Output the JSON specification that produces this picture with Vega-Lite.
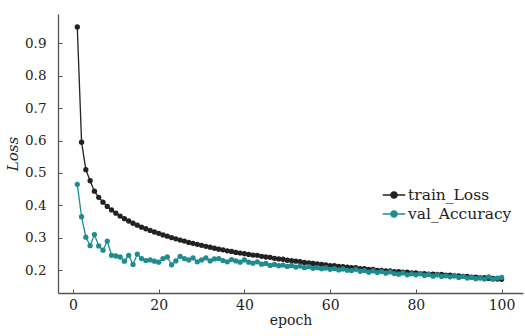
{
  "$schema": "https://vega.github.io/schema/vega-lite/v6.json",
  "autosize": {"type": "none"},
  "padding": {"left": 58, "top": 14, "right": 2, "bottom": 43},
  "width": 465,
  "height": 279,
  "background": "white",
  "data": {"values": [
    {"epoch":1,"value":0.950,"series":"train_Loss"},{"epoch":2,"value":0.595,"series":"train_Loss"},{"epoch":3,"value":0.510,"series":"train_Loss"},{"epoch":4,"value":0.476,"series":"train_Loss"},{"epoch":5,"value":0.444,"series":"train_Loss"},{"epoch":6,"value":0.425,"series":"train_Loss"},{"epoch":7,"value":0.410,"series":"train_Loss"},{"epoch":8,"value":0.397,"series":"train_Loss"},{"epoch":9,"value":0.386,"series":"train_Loss"},{"epoch":10,"value":0.376,"series":"train_Loss"},
    {"epoch":11,"value":0.367,"series":"train_Loss"},{"epoch":12,"value":0.359,"series":"train_Loss"},{"epoch":13,"value":0.352,"series":"train_Loss"},{"epoch":14,"value":0.345,"series":"train_Loss"},{"epoch":15,"value":0.339,"series":"train_Loss"},{"epoch":16,"value":0.333,"series":"train_Loss"},{"epoch":17,"value":0.328,"series":"train_Loss"},{"epoch":18,"value":0.323,"series":"train_Loss"},{"epoch":19,"value":0.318,"series":"train_Loss"},{"epoch":20,"value":0.314,"series":"train_Loss"},
    {"epoch":21,"value":0.309,"series":"train_Loss"},{"epoch":22,"value":0.305,"series":"train_Loss"},{"epoch":23,"value":0.301,"series":"train_Loss"},{"epoch":24,"value":0.297,"series":"train_Loss"},{"epoch":25,"value":0.293,"series":"train_Loss"},{"epoch":26,"value":0.290,"series":"train_Loss"},{"epoch":27,"value":0.286,"series":"train_Loss"},{"epoch":28,"value":0.283,"series":"train_Loss"},{"epoch":29,"value":0.280,"series":"train_Loss"},{"epoch":30,"value":0.277,"series":"train_Loss"},
    {"epoch":31,"value":0.274,"series":"train_Loss"},{"epoch":32,"value":0.271,"series":"train_Loss"},{"epoch":33,"value":0.268,"series":"train_Loss"},{"epoch":34,"value":0.265,"series":"train_Loss"},{"epoch":35,"value":0.263,"series":"train_Loss"},{"epoch":36,"value":0.260,"series":"train_Loss"},{"epoch":37,"value":0.258,"series":"train_Loss"},{"epoch":38,"value":0.255,"series":"train_Loss"},{"epoch":39,"value":0.253,"series":"train_Loss"},{"epoch":40,"value":0.251,"series":"train_Loss"},
    {"epoch":41,"value":0.249,"series":"train_Loss"},{"epoch":42,"value":0.247,"series":"train_Loss"},{"epoch":43,"value":0.246,"series":"train_Loss"},{"epoch":44,"value":0.243,"series":"train_Loss"},{"epoch":45,"value":0.241,"series":"train_Loss"},{"epoch":46,"value":0.240,"series":"train_Loss"},{"epoch":47,"value":0.237,"series":"train_Loss"},{"epoch":48,"value":0.235,"series":"train_Loss"},{"epoch":49,"value":0.234,"series":"train_Loss"},{"epoch":50,"value":0.231,"series":"train_Loss"},
    {"epoch":51,"value":0.230,"series":"train_Loss"},{"epoch":52,"value":0.228,"series":"train_Loss"},{"epoch":53,"value":0.227,"series":"train_Loss"},{"epoch":54,"value":0.224,"series":"train_Loss"},{"epoch":55,"value":0.223,"series":"train_Loss"},{"epoch":56,"value":0.221,"series":"train_Loss"},{"epoch":57,"value":0.220,"series":"train_Loss"},{"epoch":58,"value":0.218,"series":"train_Loss"},{"epoch":59,"value":0.217,"series":"train_Loss"},{"epoch":60,"value":0.214,"series":"train_Loss"},
    {"epoch":61,"value":0.214,"series":"train_Loss"},{"epoch":62,"value":0.212,"series":"train_Loss"},{"epoch":63,"value":0.211,"series":"train_Loss"},{"epoch":64,"value":0.210,"series":"train_Loss"},{"epoch":65,"value":0.208,"series":"train_Loss"},{"epoch":66,"value":0.208,"series":"train_Loss"},{"epoch":67,"value":0.205,"series":"train_Loss"},{"epoch":68,"value":0.205,"series":"train_Loss"},{"epoch":69,"value":0.203,"series":"train_Loss"},{"epoch":70,"value":0.203,"series":"train_Loss"},
    {"epoch":71,"value":0.200,"series":"train_Loss"},{"epoch":72,"value":0.200,"series":"train_Loss"},{"epoch":73,"value":0.198,"series":"train_Loss"},{"epoch":74,"value":0.198,"series":"train_Loss"},{"epoch":75,"value":0.196,"series":"train_Loss"},{"epoch":76,"value":0.196,"series":"train_Loss"},{"epoch":77,"value":0.194,"series":"train_Loss"},{"epoch":78,"value":0.194,"series":"train_Loss"},{"epoch":79,"value":0.192,"series":"train_Loss"},{"epoch":80,"value":0.192,"series":"train_Loss"},
    {"epoch":81,"value":0.190,"series":"train_Loss"},{"epoch":82,"value":0.190,"series":"train_Loss"},{"epoch":83,"value":0.188,"series":"train_Loss"},{"epoch":84,"value":0.188,"series":"train_Loss"},{"epoch":85,"value":0.187,"series":"train_Loss"},{"epoch":86,"value":0.187,"series":"train_Loss"},{"epoch":87,"value":0.185,"series":"train_Loss"},{"epoch":88,"value":0.185,"series":"train_Loss"},{"epoch":89,"value":0.183,"series":"train_Loss"},{"epoch":90,"value":0.183,"series":"train_Loss"},
    {"epoch":91,"value":0.181,"series":"train_Loss"},{"epoch":92,"value":0.181,"series":"train_Loss"},{"epoch":93,"value":0.179,"series":"train_Loss"},{"epoch":94,"value":0.179,"series":"train_Loss"},{"epoch":95,"value":0.177,"series":"train_Loss"},{"epoch":96,"value":0.177,"series":"train_Loss"},{"epoch":97,"value":0.175,"series":"train_Loss"},{"epoch":98,"value":0.175,"series":"train_Loss"},{"epoch":99,"value":0.173,"series":"train_Loss"},{"epoch":100,"value":0.172,"series":"train_Loss"},
    {"epoch":1,"value":0.465,"series":"val_Accuracy"},{"epoch":2,"value":0.365,"series":"val_Accuracy"},{"epoch":3,"value":0.302,"series":"val_Accuracy"},{"epoch":4,"value":0.276,"series":"val_Accuracy"},{"epoch":5,"value":0.310,"series":"val_Accuracy"},{"epoch":6,"value":0.275,"series":"val_Accuracy"},{"epoch":7,"value":0.262,"series":"val_Accuracy"},{"epoch":8,"value":0.290,"series":"val_Accuracy"},{"epoch":9,"value":0.246,"series":"val_Accuracy"},{"epoch":10,"value":0.244,"series":"val_Accuracy"},
    {"epoch":11,"value":0.241,"series":"val_Accuracy"},{"epoch":12,"value":0.228,"series":"val_Accuracy"},{"epoch":13,"value":0.246,"series":"val_Accuracy"},{"epoch":14,"value":0.218,"series":"val_Accuracy"},{"epoch":15,"value":0.250,"series":"val_Accuracy"},{"epoch":16,"value":0.236,"series":"val_Accuracy"},{"epoch":17,"value":0.230,"series":"val_Accuracy"},{"epoch":18,"value":0.232,"series":"val_Accuracy"},{"epoch":19,"value":0.228,"series":"val_Accuracy"},{"epoch":20,"value":0.225,"series":"val_Accuracy"},
    {"epoch":21,"value":0.236,"series":"val_Accuracy"},{"epoch":22,"value":0.241,"series":"val_Accuracy"},{"epoch":23,"value":0.217,"series":"val_Accuracy"},{"epoch":24,"value":0.229,"series":"val_Accuracy"},{"epoch":25,"value":0.243,"series":"val_Accuracy"},{"epoch":26,"value":0.236,"series":"val_Accuracy"},{"epoch":27,"value":0.232,"series":"val_Accuracy"},{"epoch":28,"value":0.238,"series":"val_Accuracy"},{"epoch":29,"value":0.226,"series":"val_Accuracy"},{"epoch":30,"value":0.232,"series":"val_Accuracy"},
    {"epoch":31,"value":0.238,"series":"val_Accuracy"},{"epoch":32,"value":0.229,"series":"val_Accuracy"},{"epoch":33,"value":0.235,"series":"val_Accuracy"},{"epoch":34,"value":0.236,"series":"val_Accuracy"},{"epoch":35,"value":0.230,"series":"val_Accuracy"},{"epoch":36,"value":0.226,"series":"val_Accuracy"},{"epoch":37,"value":0.233,"series":"val_Accuracy"},{"epoch":38,"value":0.229,"series":"val_Accuracy"},{"epoch":39,"value":0.225,"series":"val_Accuracy"},{"epoch":40,"value":0.232,"series":"val_Accuracy"},
    {"epoch":41,"value":0.225,"series":"val_Accuracy"},{"epoch":42,"value":0.222,"series":"val_Accuracy"},{"epoch":43,"value":0.226,"series":"val_Accuracy"},{"epoch":44,"value":0.219,"series":"val_Accuracy"},{"epoch":45,"value":0.221,"series":"val_Accuracy"},{"epoch":46,"value":0.215,"series":"val_Accuracy"},{"epoch":47,"value":0.218,"series":"val_Accuracy"},{"epoch":48,"value":0.214,"series":"val_Accuracy"},{"epoch":49,"value":0.216,"series":"val_Accuracy"},{"epoch":50,"value":0.212,"series":"val_Accuracy"},
    {"epoch":51,"value":0.215,"series":"val_Accuracy"},{"epoch":52,"value":0.210,"series":"val_Accuracy"},{"epoch":53,"value":0.213,"series":"val_Accuracy"},{"epoch":54,"value":0.208,"series":"val_Accuracy"},{"epoch":55,"value":0.211,"series":"val_Accuracy"},{"epoch":56,"value":0.206,"series":"val_Accuracy"},{"epoch":57,"value":0.208,"series":"val_Accuracy"},{"epoch":58,"value":0.205,"series":"val_Accuracy"},{"epoch":59,"value":0.207,"series":"val_Accuracy"},{"epoch":60,"value":0.203,"series":"val_Accuracy"},
    {"epoch":61,"value":0.205,"series":"val_Accuracy"},{"epoch":62,"value":0.201,"series":"val_Accuracy"},{"epoch":63,"value":0.204,"series":"val_Accuracy"},{"epoch":64,"value":0.200,"series":"val_Accuracy"},{"epoch":65,"value":0.199,"series":"val_Accuracy"},{"epoch":66,"value":0.203,"series":"val_Accuracy"},{"epoch":67,"value":0.197,"series":"val_Accuracy"},{"epoch":68,"value":0.199,"series":"val_Accuracy"},{"epoch":69,"value":0.194,"series":"val_Accuracy"},{"epoch":70,"value":0.198,"series":"val_Accuracy"},
    {"epoch":71,"value":0.193,"series":"val_Accuracy"},{"epoch":72,"value":0.196,"series":"val_Accuracy"},{"epoch":73,"value":0.191,"series":"val_Accuracy"},{"epoch":74,"value":0.195,"series":"val_Accuracy"},{"epoch":75,"value":0.190,"series":"val_Accuracy"},{"epoch":76,"value":0.188,"series":"val_Accuracy"},{"epoch":77,"value":0.192,"series":"val_Accuracy"},{"epoch":78,"value":0.186,"series":"val_Accuracy"},{"epoch":79,"value":0.189,"series":"val_Accuracy"},{"epoch":80,"value":0.186,"series":"val_Accuracy"},
    {"epoch":81,"value":0.190,"series":"val_Accuracy"},{"epoch":82,"value":0.184,"series":"val_Accuracy"},{"epoch":83,"value":0.187,"series":"val_Accuracy"},{"epoch":84,"value":0.182,"series":"val_Accuracy"},{"epoch":85,"value":0.186,"series":"val_Accuracy"},{"epoch":86,"value":0.181,"series":"val_Accuracy"},{"epoch":87,"value":0.183,"series":"val_Accuracy"},{"epoch":88,"value":0.180,"series":"val_Accuracy"},{"epoch":89,"value":0.184,"series":"val_Accuracy"},{"epoch":90,"value":0.178,"series":"val_Accuracy"},
    {"epoch":91,"value":0.181,"series":"val_Accuracy"},{"epoch":92,"value":0.176,"series":"val_Accuracy"},{"epoch":93,"value":0.178,"series":"val_Accuracy"},{"epoch":94,"value":0.174,"series":"val_Accuracy"},{"epoch":95,"value":0.177,"series":"val_Accuracy"},{"epoch":96,"value":0.173,"series":"val_Accuracy"},{"epoch":97,"value":0.180,"series":"val_Accuracy"},{"epoch":98,"value":0.172,"series":"val_Accuracy"},{"epoch":99,"value":0.176,"series":"val_Accuracy"},{"epoch":100,"value":0.178,"series":"val_Accuracy"}
  ]},
  "mark": {"type": "line", "strokeWidth": 1.3, "point": {"filled": true, "size": 28}},
  "encoding": {
    "x": {
      "field": "epoch", "type": "quantitative",
      "scale": {"domain": [-3.5, 105], "nice": false, "zero": false},
      "axis": {"values": [0, 20, 40, 60, 80, 100], "title": "epoch", "grid": false,
        "tickSize": -4, "labelPadding": 9, "titlePadding": 1, "labelFontSize": 14}
    },
    "y": {
      "field": "value", "type": "quantitative",
      "scale": {"domain": [0.13, 0.99], "nice": false, "zero": false},
      "axis": {"values": [0.2, 0.3, 0.4, 0.5, 0.6, 0.7, 0.8, 0.9], "format": ".1f", "title": "Loss",
        "titleFontStyle": "italic", "titleFontSize": 15, "grid": false, "tickSize": -4, "labelPadding": 16, "titlePadding": 4, "labelFontSize": 13.5}
    },
    "color": {
      "field": "series", "type": "nominal",
      "scale": {"domain": ["train_Loss", "val_Accuracy"], "range": ["#222222", "#1f8c8f"]},
      "legend": {
        "title": null, "orient": "none", "legendX": 328, "legendY": 173, "padding": 0,
        "symbolType": "M-1.6,0H1.6M-0.45,0a0.45,0.45 0 1,0 0.9,0a0.45,0.45 0 1,0 -0.9,0",
        "symbolSize": 196, "symbolStrokeWidth": 1.3,
        "labelFont": "DejaVu Serif", "labelFontSize": 15.5, "labelColor": "#222", "labelOffset": 6,
        "rowPadding": 2,
        "encode": {"symbols": {"update": {"fill": {"scale": "color", "field": "value"}}}}
      }
    }
  },
  "config": {
    "view": {"stroke": null},
    "font": "DejaVu Serif",
    "axis": {
      "labelFont": "DejaVu Serif", "labelColor": "#222",
      "titleFont": "DejaVu Serif", "titleFontSize": 14, "titleColor": "#222", "titleFontWeight": "normal",
      "domainColor": "#555", "domainWidth": 1.3, "tickColor": "#555", "tickWidth": 1
    }
  }
}
